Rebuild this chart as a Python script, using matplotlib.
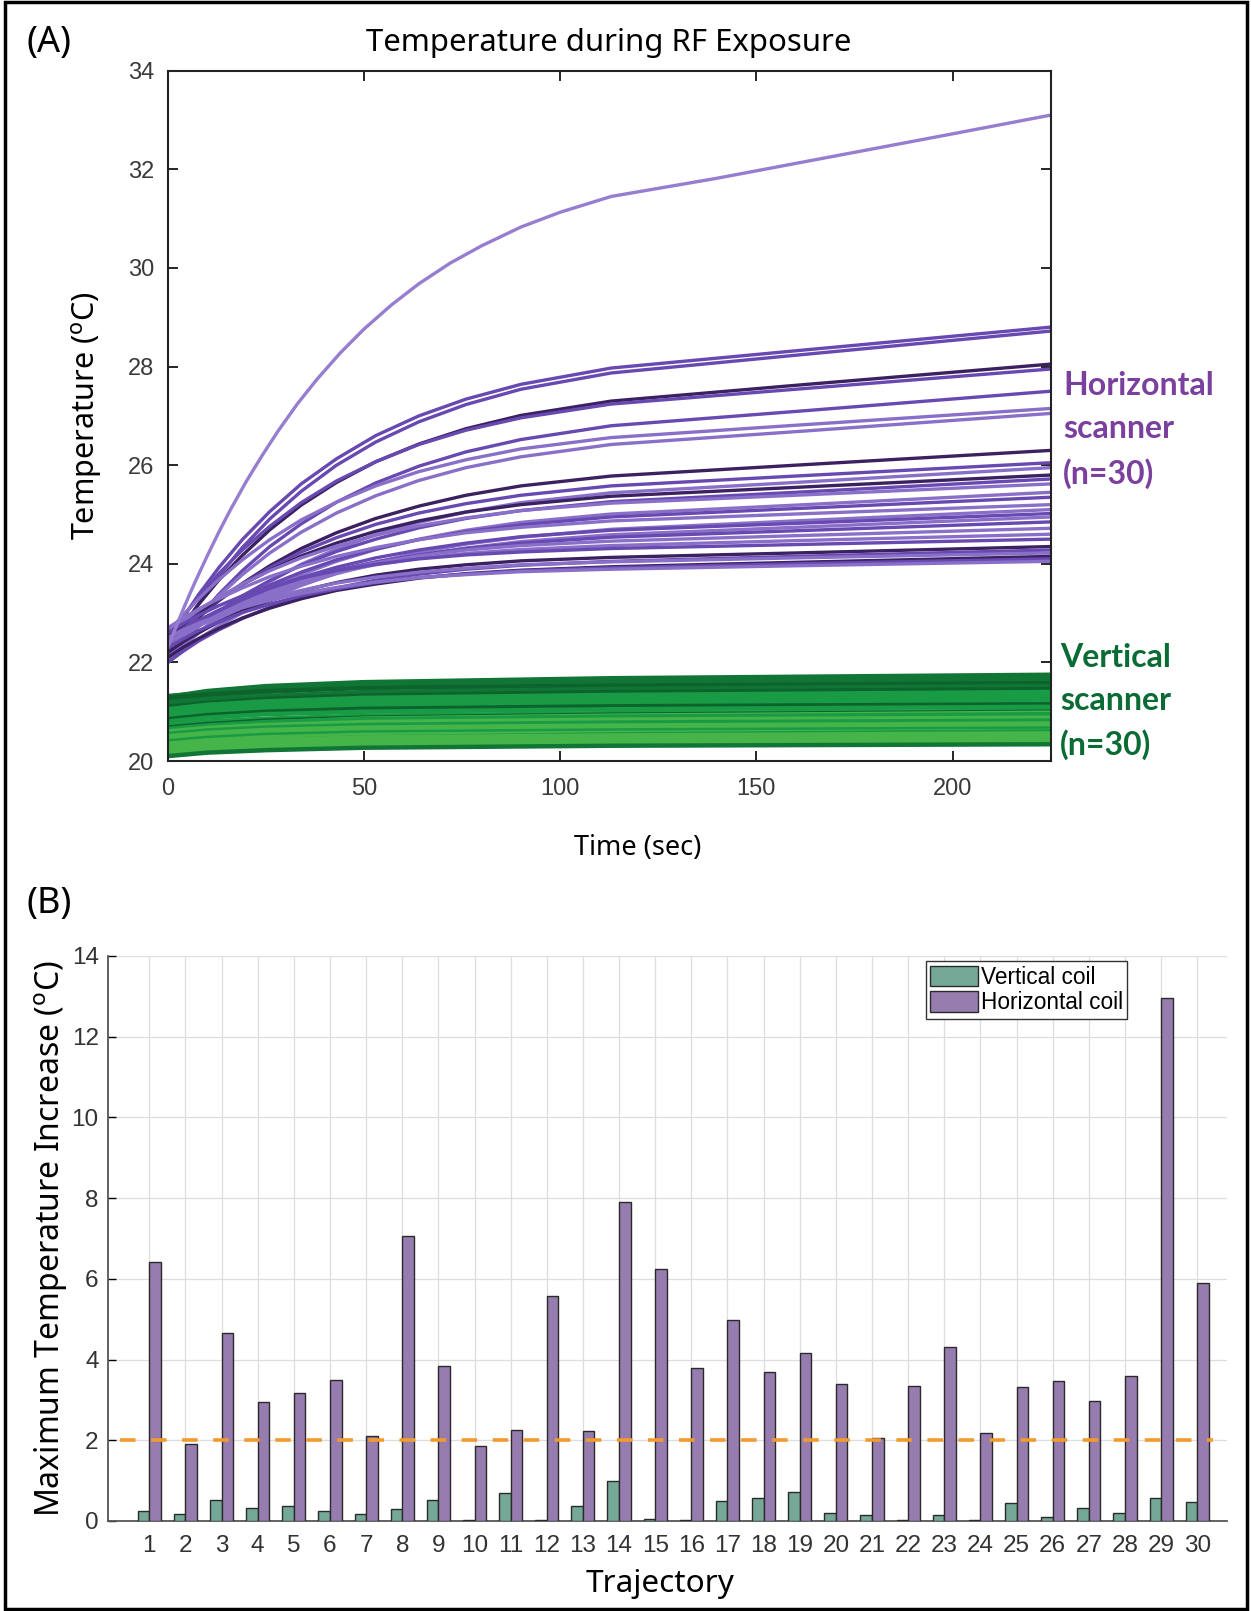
import matplotlib.pyplot as plt
from matplotlib.patches import Rectangle

# ---- panel A: temperature curves ----
# hottest horizontal-scanner trajectory (read on its own finer time grid)
t_top = [0, 2, 4, 6, 8, 10, 13, 16, 20, 24, 28, 33, 38, 44, 50, 57, 64, 72, 80,
         90, 100, 113, 140, 170, 200, 225]
top_curve = [22.30, 22.70, 23.09, 23.46, 23.81, 24.15, 24.64, 25.10, 25.67, 26.19,
             26.68, 27.24, 27.74, 28.28, 28.76, 29.25, 29.68, 30.10, 30.45, 30.83,
             31.13, 31.45, 31.82, 32.27, 32.72, 33.10]

t_h = [0, 4, 8, 13, 19, 26, 34, 43, 53, 64, 76, 90, 113, 160, 225]
horizontal = [
    [22.40, 22.92, 23.39, 23.92, 24.49, 25.06, 25.62, 26.13, 26.60, 27.00, 27.34, 27.64, 27.97, 28.32, 28.80],
    [22.20, 22.73, 23.21, 23.75, 24.33, 24.91, 25.47, 26.00, 26.47, 26.88, 27.23, 27.54, 27.87, 28.23, 28.72],
    [22.30, 22.76, 23.19, 23.67, 24.17, 24.69, 25.19, 25.65, 26.07, 26.43, 26.74, 27.01, 27.30, 27.62, 28.05],
    [22.50, 22.94, 23.34, 23.80, 24.28, 24.76, 25.24, 25.68, 26.07, 26.42, 26.71, 26.96, 27.24, 27.54, 27.95],
    [22.10, 22.54, 22.93, 23.38, 23.86, 24.35, 24.81, 25.25, 25.64, 25.98, 26.27, 26.52, 26.80, 27.09, 27.50],
    [22.60, 22.97, 23.30, 23.68, 24.08, 24.49, 24.89, 25.25, 25.58, 25.87, 26.11, 26.33, 26.56, 26.81, 27.15],
    [22.20, 22.59, 22.95, 23.35, 23.78, 24.22, 24.64, 25.03, 25.38, 25.69, 25.95, 26.17, 26.42, 26.68, 27.05],
    [22.30, 22.62, 22.92, 23.25, 23.60, 23.96, 24.31, 24.63, 24.92, 25.17, 25.39, 25.58, 25.78, 26.00, 26.30],
    [22.40, 22.69, 22.96, 23.27, 23.59, 23.92, 24.24, 24.53, 24.80, 25.03, 25.22, 25.39, 25.58, 25.78, 26.05],
    [22.00, 22.32, 22.61, 22.94, 23.29, 23.64, 23.99, 24.30, 24.59, 24.84, 25.05, 25.24, 25.44, 25.65, 25.95],
    [22.50, 22.77, 23.01, 23.28, 23.58, 23.87, 24.16, 24.42, 24.66, 24.87, 25.05, 25.20, 25.37, 25.55, 25.80],
    [22.20, 22.48, 22.74, 23.04, 23.35, 23.66, 23.97, 24.25, 24.50, 24.73, 24.92, 25.08, 25.26, 25.45, 25.72],
    [22.60, 22.84, 23.07, 23.32, 23.59, 23.86, 24.12, 24.36, 24.58, 24.77, 24.93, 25.08, 25.23, 25.39, 25.62],
    [22.10, 22.37, 22.62, 22.90, 23.19, 23.49, 23.78, 24.05, 24.29, 24.50, 24.68, 24.84, 25.01, 25.19, 25.45],
    [22.30, 22.55, 22.77, 23.02, 23.29, 23.57, 23.83, 24.08, 24.30, 24.49, 24.65, 24.79, 24.95, 25.12, 25.35],
    [22.70, 22.90, 23.09, 23.29, 23.51, 23.74, 23.95, 24.15, 24.33, 24.49, 24.63, 24.74, 24.87, 25.01, 25.20],
    [22.00, 22.25, 22.48, 22.74, 23.01, 23.29, 23.56, 23.81, 24.03, 24.23, 24.40, 24.54, 24.70, 24.87, 25.10],
    [22.40, 22.61, 22.80, 23.02, 23.25, 23.49, 23.72, 23.93, 24.12, 24.28, 24.42, 24.55, 24.68, 24.82, 25.02],
    [22.20, 22.42, 22.62, 22.85, 23.10, 23.34, 23.58, 23.80, 24.00, 24.17, 24.32, 24.45, 24.59, 24.74, 24.95],
    [22.50, 22.69, 22.86, 23.06, 23.26, 23.47, 23.68, 23.87, 24.04, 24.18, 24.31, 24.42, 24.54, 24.67, 24.85],
    [22.10, 22.37, 22.60, 22.86, 23.13, 23.39, 23.63, 23.84, 24.02, 24.16, 24.28, 24.37, 24.46, 24.57, 24.72],
    [22.30, 22.53, 22.74, 22.97, 23.20, 23.43, 23.64, 23.83, 23.98, 24.11, 24.21, 24.29, 24.37, 24.47, 24.60],
    [22.60, 22.79, 22.96, 23.15, 23.35, 23.53, 23.71, 23.86, 23.99, 24.10, 24.18, 24.24, 24.31, 24.39, 24.50],
    [22.20, 22.42, 22.61, 22.82, 23.04, 23.25, 23.45, 23.62, 23.77, 23.89, 23.98, 24.06, 24.13, 24.22, 24.35],
    [22.00, 22.23, 22.44, 22.66, 22.89, 23.12, 23.33, 23.51, 23.67, 23.79, 23.89, 23.97, 24.05, 24.15, 24.28],
    [22.40, 22.59, 22.75, 22.93, 23.12, 23.30, 23.46, 23.61, 23.73, 23.83, 23.91, 23.98, 24.04, 24.12, 24.22],
    [22.10, 22.31, 22.49, 22.69, 22.90, 23.10, 23.29, 23.46, 23.59, 23.71, 23.80, 23.87, 23.94, 24.03, 24.15],
    [22.30, 22.48, 22.65, 22.82, 23.01, 23.18, 23.35, 23.49, 23.62, 23.72, 23.79, 23.86, 23.92, 24.00, 24.10],
    [22.50, 22.66, 22.80, 22.95, 23.11, 23.26, 23.40, 23.52, 23.63, 23.72, 23.78, 23.84, 23.89, 23.96, 24.05],
]
h_shade = ["m", "m", "d", "m", "m", "l", "l", "d", "m", "l", "d", "m", "l", "l",
           "m", "l", "l", "m", "l", "m", "l", "l", "m", "d", "m", "l", "d", "m", "l"]

t_v = [0, 10, 25, 50, 113, 225]
vertical = [
    [21.30, 21.42, 21.52, 21.60, 21.68, 21.75],
    [21.25, 21.36, 21.46, 21.55, 21.63, 21.70],
    [21.32, 21.38, 21.45, 21.52, 21.58, 21.65],
    [21.20, 21.31, 21.40, 21.49, 21.57, 21.64],
    [21.28, 21.35, 21.42, 21.48, 21.53, 21.58],
    [21.15, 21.24, 21.32, 21.40, 21.46, 21.52],
    [21.10, 21.18, 21.26, 21.33, 21.40, 21.46],
    [21.05, 21.14, 21.21, 21.28, 21.34, 21.40],
    [21.00, 21.08, 21.15, 21.22, 21.28, 21.33],
    [20.95, 21.03, 21.10, 21.16, 21.22, 21.27],
    [20.90, 20.98, 21.05, 21.11, 21.16, 21.21],
    [20.85, 20.93, 21.00, 21.06, 21.11, 21.15],
    [20.80, 20.88, 20.95, 21.00, 21.05, 21.10],
    [20.72, 20.80, 20.86, 20.92, 20.97, 21.02],
    [20.68, 20.75, 20.82, 20.88, 20.94, 21.00],
    [20.62, 20.70, 20.78, 20.86, 20.92, 20.98],
    [20.65, 20.72, 20.79, 20.85, 20.90, 20.95],
    [20.60, 20.67, 20.73, 20.79, 20.84, 20.88],
    [20.55, 20.62, 20.68, 20.73, 20.78, 20.82],
    [20.50, 20.57, 20.63, 20.68, 20.72, 20.76],
    [20.45, 20.52, 20.58, 20.63, 20.67, 20.71],
    [20.40, 20.47, 20.53, 20.58, 20.62, 20.66],
    [20.35, 20.42, 20.48, 20.53, 20.57, 20.61],
    [20.28, 20.35, 20.42, 20.48, 20.54, 20.60],
    [20.30, 20.37, 20.43, 20.48, 20.52, 20.56],
    [20.25, 20.32, 20.38, 20.43, 20.47, 20.50],
    [20.20, 20.27, 20.33, 20.38, 20.42, 20.45],
    [20.18, 20.26, 20.33, 20.40, 20.46, 20.52],
    [20.15, 20.22, 20.28, 20.32, 20.36, 20.40],
    [20.10, 20.17, 20.22, 20.27, 20.31, 20.34],
]
v_shade = ["d", "d", "d", "d", "k", "d", "k", "m", "m", "m", "m", "k", "m", "m", "k",
           "l", "m", "l", "m", "l", "l", "m", "l", "m", "l", "l", "l", "l", "l", "d"]

# ---- panel B: max temperature increase ----
trajectory = list(range(1, 31))
vertical_coil = [0.25, 0.17, 0.53, 0.33, 0.37, 0.25, 0.17, 0.30, 0.53, 0.02,
                 0.70, 0.02, 0.38, 1.00, 0.05, 0.02, 0.50, 0.58, 0.72, 0.20,
                 0.14, 0.02, 0.14, 0.02, 0.45, 0.10, 0.33, 0.20, 0.56, 0.48]
horizontal_coil = [6.42, 1.90, 4.65, 2.95, 3.18, 3.50, 2.10, 7.05, 3.85, 1.85,
                   2.25, 5.58, 2.22, 7.90, 6.25, 3.78, 4.97, 3.70, 4.17, 3.40,
                   2.05, 3.35, 4.30, 2.17, 3.32, 3.48, 2.97, 3.60, 12.95, 5.90]
limit = 2.0

purples = {"t": "#977dd0", "d": "#3b2160", "m": "#6848b1", "l": "#8a6fc9"}
greens = {"k": "#0c642c", "d": "#117635", "m": "#199a45", "l": "#45b449"}
lab_font = "Noto Sans"
tick_font = "Liberation Sans"
note_font = ["Lato", "Open Sans", "DejaVu Sans"]

fig = plt.figure(figsize=(12.51, 16.11), dpi=100)

ax = fig.add_axes([0.1341, 0.5276, 0.7058, 0.4285])
for row, s in zip(vertical, v_shade):
    ax.plot(t_v, row, color=greens[s], lw=3.2, solid_capstyle="butt")
for row, s in zip(horizontal, h_shade):
    ax.plot(t_h, row, color=purples[s], lw=2.4, solid_capstyle="butt")
ax.plot(t_top, top_curve, color=purples["t"], lw=2.4, solid_capstyle="butt")
ax.set_xlim(0, 225)
ax.set_ylim(20, 34)
ax.set_xticks([0, 50, 100, 150, 200])
ax.set_yticks(range(20, 35, 2))
ax.tick_params(direction="in", length=7, width=1.2, top=True, right=True,
               labelsize=17, labelcolor="#3a3a3a")
ax.tick_params(axis="x", pad=12)
ax.tick_params(axis="y", pad=10)
for lab in ax.get_xticklabels() + ax.get_yticklabels():
    lab.set_fontfamily(tick_font)
for sp in ax.spines.values():
    sp.set_linewidth(1.5)
    sp.set_color("#222222")

fig.text(0.0208, 0.9733, "(A)", fontsize=26, family=lab_font, va="center", ha="left")
fig.text(0.4868, 0.9733, "Temperature during RF Exposure", fontsize=22.4,
         family=lab_font, va="center", ha="center")
fig.text(0.510, 0.4736, "Time (sec)", fontsize=19.5, family=lab_font,
         va="center", ha="center")
fig.text(0.0695, 0.7418, "Temperature ($^{\\mathrm{o}}$C)", fontsize=22,
         family=lab_font, va="center", ha="center", rotation=90)
fig.text(0.8497, 0.733, "Horizontal\nscanner\n(n=30)", fontsize=23,
         family=note_font, weight="bold", color="#7b3f9e",
         va="center", ha="left", linespacing=1.58)
fig.text(0.8473, 0.5645, "Vertical\nscanner\n(n=30)", fontsize=23,
         family=note_font, weight="bold", color="#0b6b35",
         va="center", ha="left", linespacing=1.58)

# ---- bars ----
ax2 = fig.add_axes([0.0867, 0.0559, 0.894, 0.3507])
w = 0.32
xs = trajectory
ax2.bar([x - w / 2 for x in xs], vertical_coil, w, color="#76a897",
        edgecolor="#2a2a2a", lw=1.0, label="Vertical coil", zorder=3)
ax2.bar([x + w / 2 for x in xs], horizontal_coil, w, color="#977daf",
        edgecolor="#2a2a2a", lw=1.0, label="Horizontal coil", zorder=3)
ax2.plot([0.2, 30.45], [limit, limit], color="#f39a2e", lw=2.6,
         dashes=(4.3, 4.3), zorder=4)
ax2.set_xlim(-0.13, 30.82)
ax2.set_ylim(0, 14)
ax2.set_xticks(xs)
ax2.set_yticks(range(0, 15, 2))
ax2.grid(True, color="#dddddd", lw=0.9, zorder=0)
ax2.set_axisbelow(True)
ax2.spines["top"].set_visible(False)
ax2.spines["right"].set_visible(False)
for k in ("left", "bottom"):
    ax2.spines[k].set_color("#555555")
    ax2.spines[k].set_linewidth(1.3)
ax2.tick_params(axis="y", direction="in", length=6, width=1.0,
                labelsize=17.5, labelcolor="#333333", pad=7)
ax2.tick_params(axis="x", length=0, labelsize=17.5, labelcolor="#333333", pad=10)
for lab in ax2.get_xticklabels() + ax2.get_yticklabels():
    lab.set_fontfamily(tick_font)
leg = ax2.legend(loc="upper right", bbox_to_anchor=(0.911, 0.991),
                 prop={"family": tick_font, "size": 16.3}, frameon=True,
                 fancybox=False, edgecolor="#333333", framealpha=1,
                 handlelength=2.1, handleheight=1.0, handletextpad=0.12,
                 borderpad=0.2, labelspacing=0.12, borderaxespad=0)
leg.get_frame().set_linewidth(1.0)

fig.text(0.0208, 0.4389, "(B)", fontsize=26, family=lab_font, va="center", ha="left")
fig.text(0.5276, 0.0168, "Trajectory", fontsize=22.7, family=lab_font,
         va="center", ha="center")
fig.text(0.0408, 0.2309, "Maximum Temperature Increase ($^{\\mathrm{o}}$C)",
         fontsize=23, family=lab_font, va="center", ha="center", rotation=90)

fig.patches.append(Rectangle((0.004, 0.001), 0.993, 0.998, transform=fig.transFigure,
                             fill=False, lw=2.5, ec="black"))

fig.savefig("out.png", dpi=100)
